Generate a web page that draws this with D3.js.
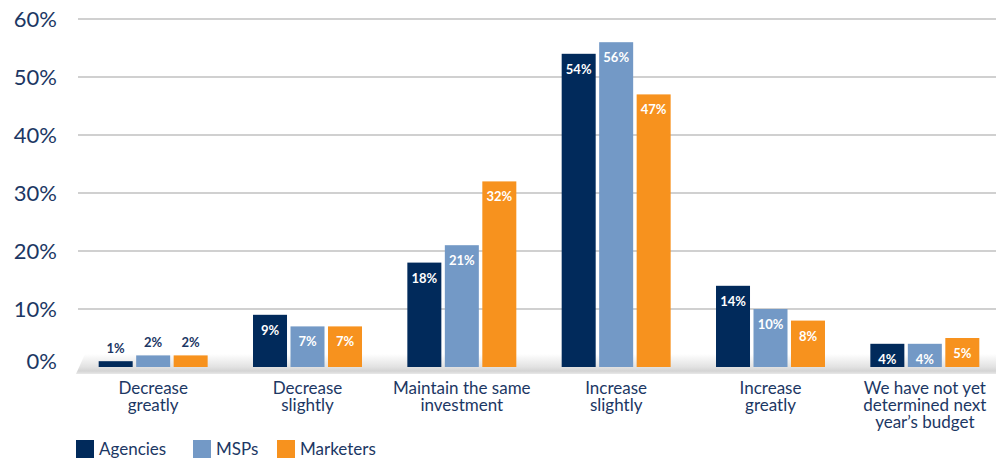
<!DOCTYPE html>
<html>
<head>
<meta charset="utf-8">
<script src="https://cdn.jsdelivr.net/npm/d3@7"></script>
<style>
	body { margin: 0; background: #fff; }
	text { font-family: Lato, "Open Sans", sans-serif; }
</style>
</head>
<body>
<div id="figure"></div>
<script>
var categories = ["Decrease\ngreatly", "Decrease\nslightly", "Maintain the same\ninvestment", "Increase\nslightly", "Increase\ngreatly", "We have not yet\ndetermined next\nyear\u2019s budget"];
var series = ["Agencies", "MSPs", "Marketers"];
var agencies = [1, 9, 18, 54, 14, 4];
var msps = [2, 7, 21, 56, 10, 4];
var marketers = [2, 7, 32, 47, 8, 5];
var yTicks = [0, 10, 20, 30, 40, 50, 60];

var w = 996;
var h = 460;
var color = d3.scaleOrdinal()
	.domain(series)
	.range(["#012a5b", "#7399c6", "#f7921e"]);
var textColor = "#1c3764";

var rows = [];
categories.forEach(function(c, i){
	rows.push({cat: c, vals: [agencies[i], msps[i], marketers[i]]});
});

var svg = d3.select('#figure')
	.append('svg')
	.attr('width', w)
	.attr('height', h);

var xScale = d3.scaleBand()
	.domain(categories)
	.range([76, 1002])
	.padding(0);

var xSub = d3.scaleBand()
	.domain(series)
	.range([0, xScale.bandwidth()])
	.paddingInner(0.093)
	.paddingOuter(0.605);

var yScale = d3.scaleLinear()
	.domain([0, 60])
	.range([367, 19]);

//Floor
var defs = svg.append('defs');
var grad = defs.append('linearGradient')
	.attr('id', 'floorGrad')
	.attr('x1', 0).attr('y1', 0).attr('x2', 0).attr('y2', 1);
grad.append('stop').attr('offset', '0%').attr('stop-color', '#ffffff');
grad.append('stop').attr('offset', '65%').attr('stop-color', '#e2e2e2');
grad.append('stop').attr('offset', '85%').attr('stop-color', '#d4d4d4');
grad.append('stop').attr('offset', '100%').attr('stop-color', '#e8e8e8');

svg.append('path')
	.attr('d', 'M85,354 L996,354 L996,374 L76,374 Z')
	.attr('fill', 'url(#floorGrad)');

//Gridlines
svg.append('g')
	.classed('gridlines', true)
	.selectAll('line')
	.data(yTicks.filter(function(d){ return d > 0; }))
	.enter()
	.append('line')
	.attr('x1', 78)
	.attr('x2', w)
	.attr('y1', function(d){ return yScale(d); })
	.attr('y2', function(d){ return yScale(d); })
	.attr('stroke', '#d0d0d0')
	.attr('stroke-width', 2);

//Y axis
var yAxis = d3.axisLeft(yScale)
	.tickValues(yTicks)
	.tickSize(0)
	.tickPadding(0)
	.tickFormat(function(d){ return d + '%'; });

var yG = svg.append('g')
	.classed('yAxis', true)
	.attr('transform', 'translate(57,0)')
	.call(yAxis);
yG.select('.domain').remove();
yG.selectAll('text')
	.attr('fill', textColor)
	.attr('font-size', 22)
	.attr('font-family', 'Lato, sans-serif')
	.attr('dy', function(d){ return d === 0 ? '0.05em' : '0.32em'; });

//Bars
var groups = svg.selectAll('g.group')
	.data(rows)
	.enter()
	.append('g')
	.classed('group', true)
	.attr('transform', function(d){ return 'translate(' + xScale(d.cat) + ',0)'; });

groups.selectAll('rect')
	.data(function(d){ return d.vals.map(function(v, i){ return {s: series[i], v: v}; }); })
	.enter()
	.append('rect')
	.attr('x', function(d){ return xSub(d.s); })
	.attr('y', function(d){ return yScale(d.v); })
	.attr('width', xSub.bandwidth())
	.attr('height', function(d){ return yScale(0) - yScale(d.v); })
	.attr('fill', function(d){ return color(d.s); });

//Bar labels
groups.selectAll('text.barLabel')
	.data(function(d){ return d.vals.map(function(v, i){ return {s: series[i], v: v}; }); })
	.enter()
	.append('text')
	.classed('barLabel', true)
	.text(function(d){ return d.v + '%'; })
	.attr('x', function(d){ return xSub(d.s) + xSub.bandwidth() / 2; })
	.attr('y', function(d){
		return d.v < 3 ? yScale(d.v) - 8 : yScale(d.v) + 20;
	})
	.attr('font-size', 13)
	.attr('font-weight', 'bold')
	.attr('text-anchor', 'middle')
	.attr('fill', function(d){ return d.v < 3 ? textColor : '#fff'; });

//Category labels
var catG = svg.append('g').classed('xLabels', true);
categories.forEach(function(c){
	var t = catG.append('text')
		.attr('text-anchor', 'middle')
		.attr('font-size', 17)
		.attr('fill', textColor)
		.attr('x', xScale(c) + xScale.bandwidth() / 2)
		.attr('y', 394);
	c.split('\n').forEach(function(line, j){
		t.append('tspan')
			.attr('x', xScale(c) + xScale.bandwidth() / 2)
			.attr('dy', j === 0 ? 0 : 17)
			.text(line);
	});
});

//Legend
var legendX = [76, 193, 277];
var legend = svg.append('g')
	.classed('legend', true)
	.selectAll('g')
	.data(series)
	.enter()
	.append('g')
	.attr('transform', function(d, i){ return 'translate(' + legendX[i] + ',440)'; });

legend.append('rect')
	.attr('width', 18)
	.attr('height', 18)
	.attr('fill', function(d){ return color(d); });

legend.append('text')
	.attr('x', 23)
	.attr('y', 15)
	.attr('font-size', 17)
	.attr('fill', textColor)
	.text(function(d){ return d; });
</script>
</body>
</html>
